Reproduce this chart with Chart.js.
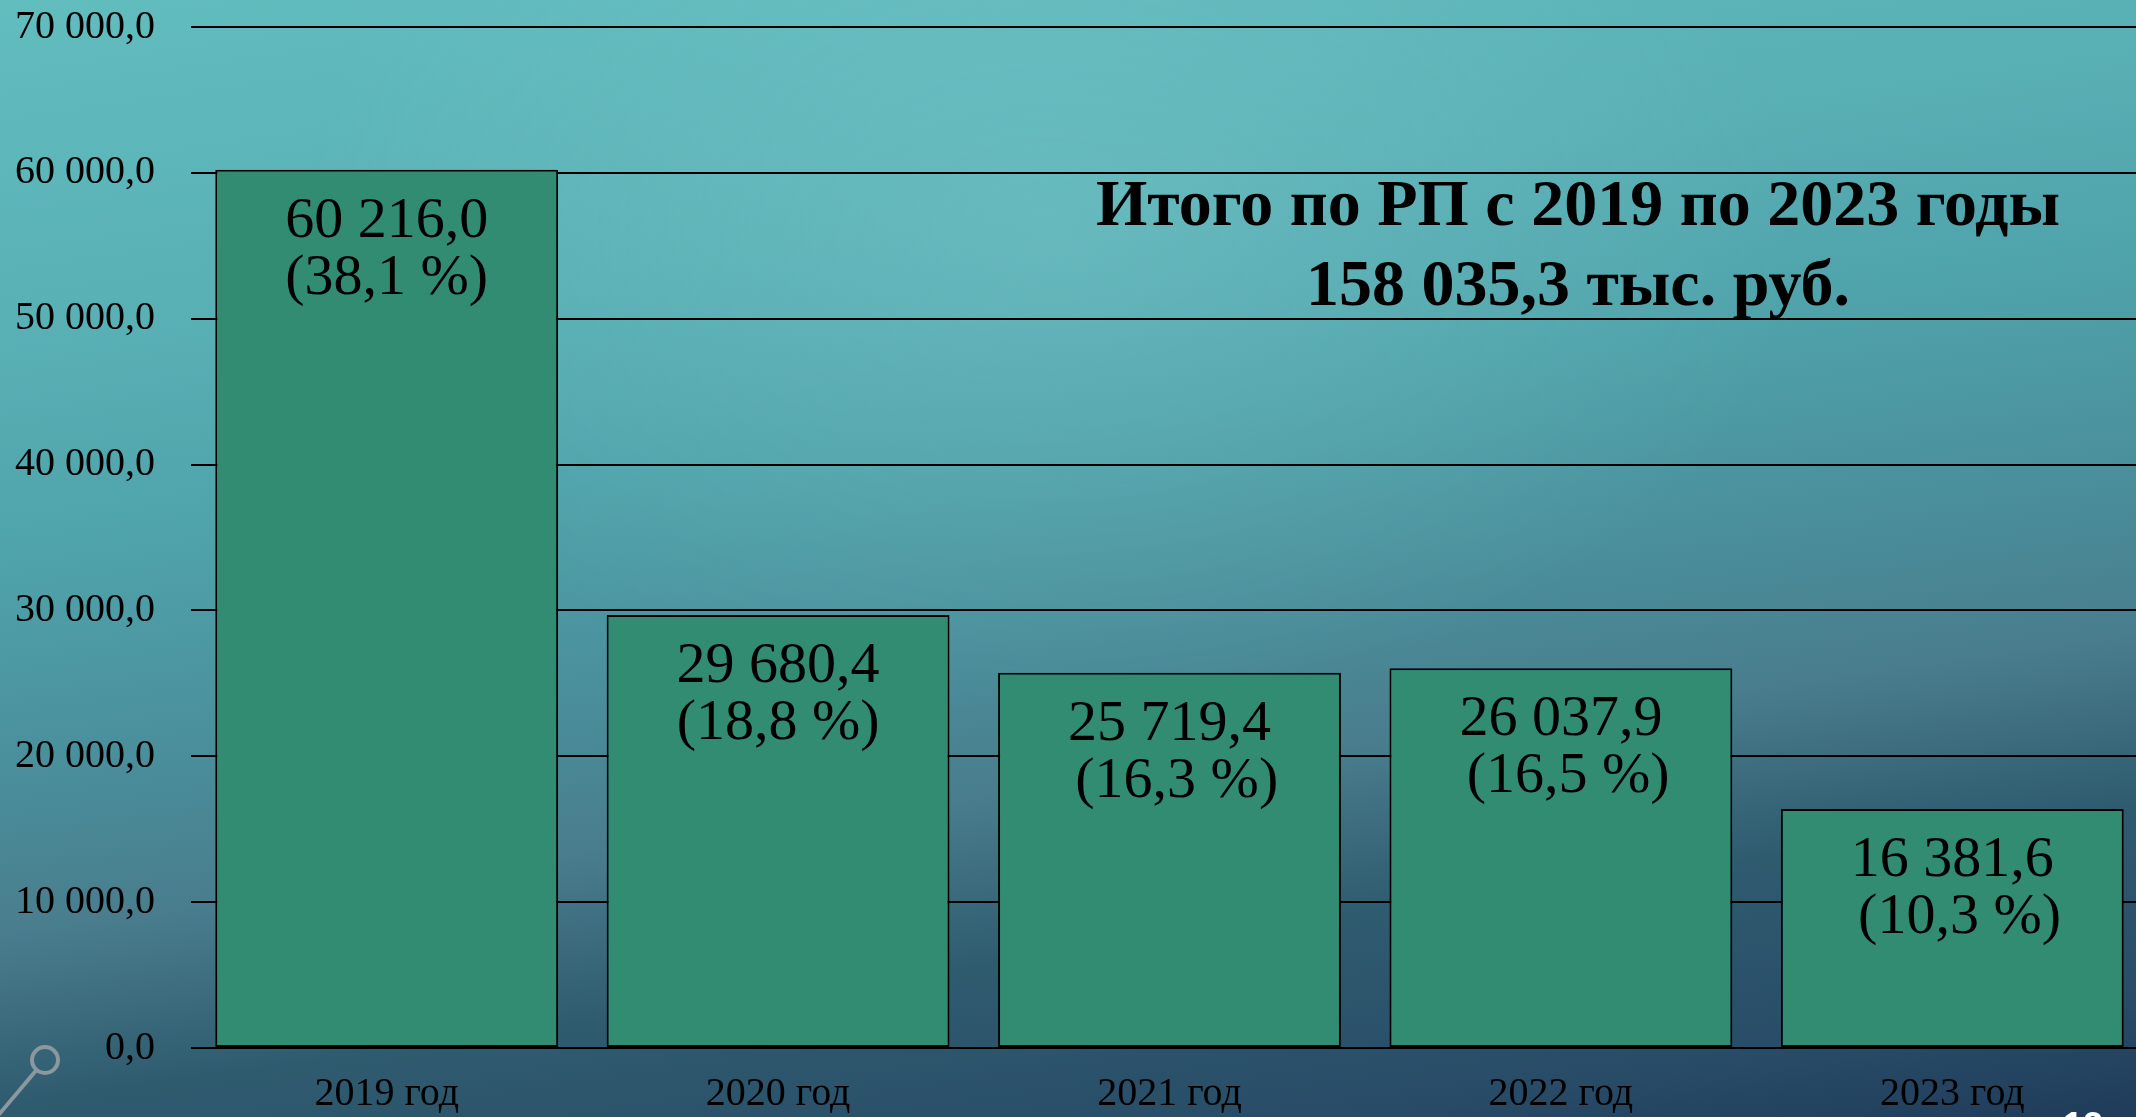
<!DOCTYPE html>
<html><head><meta charset="utf-8">
<script src="https://cdn.jsdelivr.net/npm/chart.js@4"></script>
<style>
html,body{margin:0;padding:0;width:2136px;height:1117px;overflow:hidden;}
body{
  background:
    radial-gradient(ellipse 1000px 650px at 1050px 230px, rgba(135,210,210,0.32), rgba(135,210,210,0) 75%),
    linear-gradient(172deg, #62bdbf 0%, #58afb4 25%, #4fa2aa 40%, #4a8e9b 55%, #497d8d 66%, #2f5b6f 78%, #294d68 91%, #1f3c5a 100%);
}
#wrap{position:absolute;left:0;top:0;width:2160px;height:1117px;}
</style></head><body>
<div id="wrap"><canvas id="c" width="2160" height="1117" style="width:2160px;height:1117px"></canvas></div>
<script>
const categories = ['2019 год', '2020 год', '2021 год', '2022 год', '2023 год'];
const values = [60216.0, 29680.4, 25719.4, 26037.9, 16381.6];
const percentLabels = ['(38,1 %)', '(18,8 %)', ' (16,3 %)', ' (16,5 %)', ' (10,3 %)'];
const yTickValues = [0, 10000, 20000, 30000, 40000, 50000, 60000, 70000];
const titleLines = ['Итого по РП с 2019 по 2023 годы', '158 035,3 тыс. руб.'];
const pageNumber = '13';

function fmt(v) {
  const s = v.toFixed(1).split('.');
  return s[0].replace(/\B(?=(\d{3})+(?!\d))/g, ' ') + ',' + s[1];
}

const SERIF = '"Liberation Serif", "Times New Roman", serif';

const barLabels = {
  id: 'barLabels',
  afterDatasetsDraw(chart) {
    const ctx = chart.ctx;
    const meta = chart.getDatasetMeta(0);
    ctx.save();
    ctx.fillStyle = '#000';
    ctx.font = '58px ' + SERIF;
    ctx.textAlign = 'center';
    ctx.textBaseline = 'alphabetic';
    meta.data.forEach((bar, i) => {
      ctx.fillText(fmt(values[i]), bar.x, bar.y + 67);
      ctx.fillText(percentLabels[i], bar.x, bar.y + 124);
    });
    ctx.restore();
  }
};

const decor = {
  id: 'decor',
  afterDraw(chart) {
    const ctx = chart.ctx;
    ctx.save();
    ctx.fillStyle = '#000';
    ctx.font = 'bold 66px ' + SERIF;
    ctx.textAlign = 'center';
    ctx.textBaseline = 'alphabetic';
    ctx.fillText(titleLines[0], 1578, 225);
    ctx.fillText(titleLines[1], 1578, 305);
    ctx.fillStyle = '#ffffff';
    ctx.font = 'bold 36px "Liberation Sans", Arial, sans-serif';
    ctx.textAlign = 'left';
    ctx.fillText(pageNumber, 2063, 1138);
    ctx.strokeStyle = '#8b989d';
    ctx.lineWidth = 4;
    ctx.beginPath();
    ctx.arc(45, 1060, 13, 0, Math.PI * 2);
    ctx.stroke();
    ctx.beginPath();
    ctx.moveTo(36.5, 1070);
    ctx.lineTo(-4, 1118);
    ctx.stroke();
    ctx.restore();
  }
};

new Chart(document.getElementById('c'), {
  type: 'bar',
  data: {
    labels: categories,
    datasets: [{
      data: values,
      backgroundColor: '#318c71',
      borderColor: '#000000',
      borderWidth: 2,
      borderSkipped: false,
      categoryPercentage: 1.0,
      barPercentage: 0.876
    }]
  },
  options: {
    responsive: false,
    animation: false,
    devicePixelRatio: 1,
    layout: { padding: { left: 0, right: 12, top: 27, bottom: 0 } },
    plugins: { legend: { display: false }, tooltip: { enabled: false } },
    scales: {
      x: {
        grid: { display: false, drawTicks: false },
        border: { display: false },
        ticks: { color: '#000', font: { family: SERIF, size: 40 }, padding: 22, maxRotation: 0 },
        afterFit(scale) { scale.height = 69; scale.paddingLeft = 0; scale.paddingRight = 0; }
      },
      y: {
        min: 0, max: 70000,
        afterBuildTicks(scale) { scale.ticks = yTickValues.map(v => ({ value: v })); },
        grid: { color: '#000', lineWidth: 2, drawTicks: false },
        border: { display: false },
        ticks: { color: '#000', font: { family: SERIF, size: 40 }, padding: 36, callback: v => fmt(v) },
        afterFit(scale) { scale.width = 191; scale.paddingTop = 0; scale.paddingBottom = 0; }
      }
    }
  },
  plugins: [barLabels, decor]
});
</script>
</body></html>
